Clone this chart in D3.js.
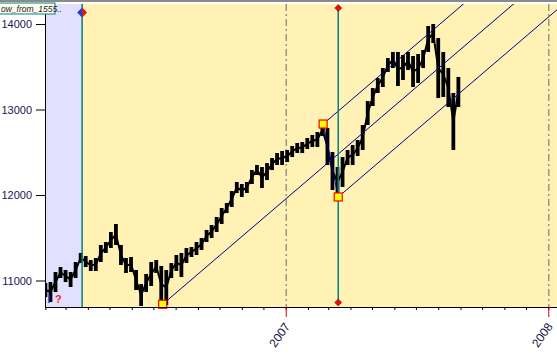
<!DOCTYPE html>
<html>
<head>
<meta charset="utf-8">
<script src="https://cdn.jsdelivr.net/npm/d3@7"></script>
<style>
  body { margin: 0; background: #fff; }
  svg { display: block; font-family: "Liberation Sans", Arial, sans-serif; }
</style>
</head>
<body>
<div id="chart"></div>
<script>
const W = 557, H = 354

// weekly high / low, one bar per week (Wednesdays, Feb 2006 - Aug 2007)
const weeks = d3.timeWednesday.range(new Date(2006, 1, 1), new Date(2007, 7, 30))
const highs = [10971, 10982, 11099, 11158, 11123, 11099, 11216, 11322, 11287, 11240,
  11263, 11415, 11450, 11567, 11661, 11415, 11263, 11275, 11123, 10959,
  11076, 11216, 11240, 11170, 11123, 11205, 11298, 11322, 11380, 11392,
  11450, 11497, 11591, 11649, 11743, 11848, 11906, 12047, 12152, 12129,
  12152, 12292, 12351, 12327, 12374, 12433, 12491, 12515, 12526, 12573,
  12608, 12620, 12667, 12702, 12737, 12830, 12784, 12503, 12327, 12444,
  12526, 12585, 12643, 12819, 13099, 13251, 13368, 13485, 13602, 13673,
  13673, 13637, 13673, 13626, 13649, 13696, 13977, 14000, 13836, 13673,
  13485, 13193, 13380]
const lows = [10807, 10749, 10865, 11029, 10982, 10924, 11029, 11205, 11158, 11111,
  11111, 11216, 11322, 11380, 11415, 11181, 11088, 11099, 10889, 10702,
  10865, 10936, 11088, 10749, 10713, 11029, 11111, 11041, 11205, 11275,
  11298, 11357, 11450, 11497, 11567, 11661, 11789, 11860, 12023, 11977,
  12023, 12129, 12234, 12082, 12175, 12292, 12351, 12351, 12386, 12444,
  12491, 12491, 12538, 12561, 12561, 12690, 12351, 12058, 11977, 12094,
  12351, 12351, 12456, 12526, 12819, 13041, 13193, 13263, 13439, 13485,
  13275, 13345, 13462, 13263, 13310, 13485, 13673, 13778, 13134, 13146,
  13029, 12526, 13029]

// pitchfork anchors: pivot low, swing high, swing low
const forkDates = [new Date(2006, 6, 14), new Date(2007, 1, 22), new Date(2007, 2, 15)]
const forkValues = [10722, 12830, 11977]

const cursorDates = [new Date(2006, 2, 24), new Date(2007, 2, 15)]
const yTicks = [11000, 12000, 13000, 14000]
const yearTicks = [new Date(2007, 0, 1), new Date(2008, 0, 1)]

const plotL = 45, plotR = 557, plotT = 4, plotB = 307

const x = d3.scaleTime()
  .domain([new Date(2006, 0, 31, 10), new Date(2008, 0, 13, 2)])
  .range([plotL, plotR])
const y = d3.scaleLinear().domain([10690, 14234]).range([plotB, plotT])

const svg = d3.select("#chart").append("svg")
  .attr("width", W).attr("height", H)

svg.append("defs").append("clipPath").attr("id", "plotclip")
  .append("rect").attr("x", plotL).attr("y", plotT)
  .attr("width", plotR - plotL).attr("height", plotB - plotT)

// backgrounds
svg.append("rect").attr("x", plotL).attr("y", plotT)
  .attr("width", plotR - plotL).attr("height", plotB - plotT)
  .attr("fill", "#fff2b4")
svg.append("rect").attr("x", plotL).attr("y", plotT)
  .attr("width", x(cursorDates[0]) - plotL).attr("height", plotB - plotT)
  .attr("fill", "#e1e1ff")

// top frame line
svg.append("rect").attr("x", 0).attr("y", 0).attr("width", W).attr("height", 2)
  .attr("fill", "#8a8a8a")

const plot = svg.append("g").attr("clip-path", "url(#plotclip)")

// year separators
plot.selectAll(".yearline").data(yearTicks).join("line")
  .attr("x1", d => x(d) + 0.5).attr("x2", d => x(d) + 0.5)
  .attr("y1", plotT).attr("y2", plotB)
  .attr("stroke", "#808080").attr("stroke-width", 1.2)
  .attr("stroke-dasharray", "7,3,2,3")

// price bars
plot.selectAll(".bar").data(weeks).join("line")
  .attr("x1", d => x(d)).attr("x2", d => x(d))
  .attr("y1", (d, i) => y(highs[i])).attr("y2", (d, i) => y(lows[i]))
  .attr("stroke", "#000").attr("stroke-width", 3.8)
plot.append("path")
  .attr("d", d3.line().x(d => x(d)).y((d, i) => y((highs[i] + lows[i]) / 2))(weeks))
  .attr("fill", "none").attr("stroke", "#000").attr("stroke-width", 2)

// Andrews pitchfork
const P = forkDates.map((d, i) => [x(d), y(forkValues[i])])
const mid = [(P[1][0] + P[2][0]) / 2, (P[1][1] + P[2][1]) / 2]
const dir = [mid[0] - P[0][0], mid[1] - P[0][1]]
const far = 5
const forkLines = [
  [P[0], [P[0][0] + dir[0] * far, P[0][1] + dir[1] * far]],
  [P[1], [P[1][0] + dir[0] * far, P[1][1] + dir[1] * far]],
  [P[2], [P[2][0] + dir[0] * far, P[2][1] + dir[1] * far]],
  [P[1], P[2]]
]
plot.selectAll(".fork").data(forkLines).join("line")
  .attr("x1", d => d[0][0]).attr("y1", d => d[0][1])
  .attr("x2", d => d[1][0]).attr("y2", d => d[1][1])
  .attr("stroke", "#00008b").attr("stroke-width", 1)

// cursor lines
svg.append("line")
  .attr("x1", x(cursorDates[0])).attr("x2", x(cursorDates[0]))
  .attr("y1", plotT).attr("y2", plotB)
  .attr("stroke", "#008080").attr("stroke-width", 1.5)
svg.append("line")
  .attr("x1", x(cursorDates[1])).attr("x2", x(cursorDates[1]))
  .attr("y1", 8).attr("y2", 303)
  .attr("stroke", "#008080").attr("stroke-width", 1.5)

// pitchfork handles
svg.selectAll(".handle").data(P).join("rect")
  .attr("x", d => d[0] - 4).attr("y", d => d[1] - 4)
  .attr("width", 8).attr("height", 8)
  .attr("fill", "#ffff00").attr("stroke", "#ff0000").attr("stroke-width", 1.2)

// diamonds on cursors
const diamond = (cx, cy, r) => `M${cx},${cy - r}L${cx + r},${cy}L${cx},${cy + r}L${cx - r},${cy}Z`
const c0 = x(cursorDates[0])
svg.append("path").attr("d", `M${c0},7.5L${c0},17.5L${c0 - 5},12.5Z`).attr("fill", "#1a3cd8")
svg.append("path").attr("d", `M${c0},7.5L${c0},17.5L${c0 + 5},12.5Z`).attr("fill", "#e81010")
const c1 = x(cursorDates[1])
svg.append("path").attr("d", diamond(c1, 8, 3.5)).attr("fill", "#e01010").attr("stroke", "#a00000").attr("stroke-width", 0.6)
svg.append("path").attr("d", diamond(c1, 302.5, 3.5)).attr("fill", "#e01010").attr("stroke", "#a00000").attr("stroke-width", 0.6)

// axes
const yAxis = svg.append("g").attr("transform", `translate(${plotL},0)`)
  .call(d3.axisLeft(y).tickValues(yTicks).tickFormat(d3.format("d")).tickSize(9).tickSizeOuter(0).tickPadding(4))
yAxis.select(".domain").attr("stroke", "#000")
yAxis.selectAll("text").attr("font-size", 11).attr("fill", "#1c1450")

const xAxis = svg.append("g").attr("transform", `translate(0,${plotB})`)
  .call(d3.axisBottom(x).ticks(d3.timeMonth.every(1)).tickFormat("").tickSize(3).tickSizeOuter(0))
xAxis.select(".domain").attr("stroke", "#000")

const yearAxis = svg.append("g").attr("transform", `translate(0,${plotB})`)
  .call(d3.axisBottom(x).tickValues(yearTicks).tickFormat(d3.timeFormat("%Y")).tickSize(10).tickPadding(3))
yearAxis.select(".domain").remove()
yearAxis.selectAll("line").attr("stroke", "#e00000")
yearAxis.selectAll("text")
  .attr("font-size", 12).attr("fill", "#101040")
  .attr("text-anchor", "end").attr("dy", "0.35em")
  .attr("transform", "translate(1,17) rotate(-55)")
  .attr("y", 0).attr("x", 0)

// series label box
svg.append("rect").attr("x", -1).attr("y", 3).attr("width", 56).attr("height", 11)
  .attr("fill", "#fffff0").attr("stroke", "#008080").attr("stroke-width", 1)
svg.append("text").attr("x", 1).attr("y", 11.5)
  .attr("font-size", 8.5).attr("font-style", "italic").attr("fill", "#202020")
  .text("ow_from_1555..")

// status marks
svg.append("text").attr("x", 47).attr("y", 303).attr("font-size", 11).attr("font-weight", "bold")
  .attr("fill", "#2050ff").text("!")
svg.append("text").attr("x", 55).attr("y", 303).attr("font-size", 11).attr("font-weight", "bold")
  .attr("fill", "#ff2020").text("?")
</script>
</body>
</html>
